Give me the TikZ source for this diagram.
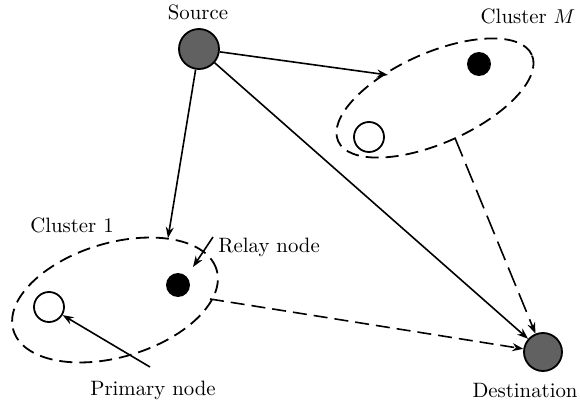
\documentclass[tikz,border=0pt]{standalone}
\usetikzlibrary{shapes.geometric,arrows.meta}
\begin{document}
\begin{tikzpicture}[x=0.5pt,y=-0.5pt,
  every node/.style={font=\fontsize{10.4}{12}\selectfont},
  bignode/.style={circle,draw,line width=0.9pt,fill=black!62,minimum size=20pt,inner sep=0pt},
  relaynode/.style={circle,fill=black,minimum size=12pt,inner sep=0pt},
  primnode/.style={circle,draw,line width=0.9pt,fill=white,minimum size=15pt,inner sep=0pt},
  clusterbox/.style={ellipse,draw,line width=0.9pt,dash pattern=on 6.5pt off 3.5pt,inner sep=0pt},
  link/.style={line width=0.8pt,-{Stealth[length=5.5pt,width=4pt]}},
  dlink/.style={link,dash pattern=on 7pt off 3.5pt},
  longdlink/.style={link,dash pattern=on 10pt off 4pt},
  lbl/.style={inner sep=0pt}]
\useasboundingbox (0,0) rectangle (580,402);

% clusters
\node[clusterbox,minimum width=212pt*0.5,minimum height=90pt*0.5,rotate=24] (cM) at (435,98) {};
\node[clusterbox,minimum width=212pt*0.5,minimum height=114pt*0.5,rotate=16.6] (c1) at (115,300) {};

% terminals
\node[bignode] (src) at (199,49) {};
\node[bignode,minimum size=19pt] (dst) at (543,352) {};

% nodes inside the clusters
\node[relaynode] (rM) at (479,64) {};
\node[primnode] (pM) at (369,137) {};
\node[relaynode] (r1) at (178,285) {};
\node[primnode] (p1) at (49,307) {};

% labels
\node[lbl,anchor=base] (srclbl) at (198,19) {Source};
\node[lbl,anchor=base] (cMlbl) at (528,23) {Cluster $M$};
\node[lbl,anchor=base] (c1lbl) at (72,232) {Cluster 1};
\node[lbl,anchor=base west] (rlbl) at (218,252) {Relay node};
\node[lbl,anchor=base] (plbl) at (153,395) {Primary node};
\node[lbl,anchor=base] (dstlbl) at (525,397) {Destination};

% connector end points on the cluster borders
\coordinate (cMin) at (388,75);
\coordinate (c1in) at (168,238);
\coordinate (cMout) at (455,138);
\coordinate (c1out) at (210,299);
\coordinate (rfrom) at (213,237);
\coordinate (rto) at (193,267);
\coordinate (pfrom) at (150,367);

% links
\draw[link] (src) -- (cMin);
\draw[link] (src) -- (c1in);
\draw[link] (src) -- (dst);
\draw[longdlink] (cMout) -- (dst);
\draw[dlink] (c1out) -- (dst);

% pointers to the labelled nodes
\draw[link] (rfrom) -- (rto);
\draw[link] (pfrom) -- (p1);
\end{tikzpicture}
\end{document}
